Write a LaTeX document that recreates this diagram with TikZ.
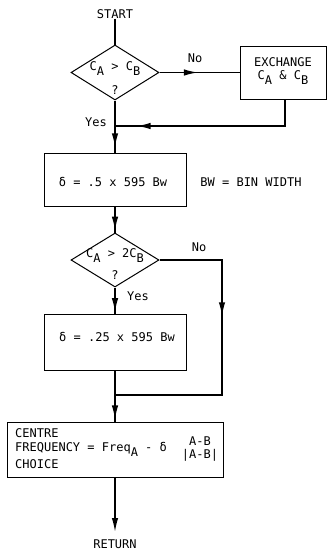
\documentclass[tikz,border=0pt]{standalone}
\usepackage{fontspec}
\setmainfont{DejaVu Sans Mono}
\usetikzlibrary{arrows.meta,decorations.markings,shapes.geometric}
\newcommand{\lowr}[1]{\raisebox{-5pt}{#1}}
\begin{document}
\begin{tikzpicture}[x=1pt,y=-1pt,
  font=\fontsize{12}{14}\selectfont,
  txt/.style={inner sep=0pt},
  boxs/.style={draw,line width=1pt,inner sep=0pt},
  dia/.style={draw,diamond,line width=1pt,inner sep=0pt},
  conn/.style={line width=1.5pt},
  tip/.tip={Latex[length=14pt,width=6.5pt]},
  midarrow/.style={postaction={decorate,decoration={markings,
    mark=at position #1 with {\arrow{tip}}}}}]
\useasboundingbox[fill=white] (0,0) rectangle (327,552);

% nodes
\node[txt] (start) at (115,14) {START};
\node[dia,minimum width=88pt,minimum height=55pt] (d1) at (115,72.5) {};
\node[txt] (d1t) at (115,69) {C\lowr{A} > C\lowr{B}};
\node[txt] (d1q) at (115,90) {?};
\node[boxs,minimum width=86pt,minimum height=53pt] (ex) at (283,72.5) {};
\node[txt] (ext1) at (283,62) {EXCHANGE};
\node[txt] (ext2) at (283,78) {C\lowr{A} \& C\lowr{B}};
\node[txt] (no1) at (195,58) {No};
\node[txt] (yes1) at (96,122) {Yes};

\node[boxs,minimum width=142pt,minimum height=53pt] (b2) at (115,179.5) {};
\node[txt] (b2t) at (113,182) {δ = .5 x 595 Bw};
\node[txt] (bw) at (251,182) {BW = BIN WIDTH};

\node[dia,minimum width=88pt,minimum height=54pt] (d2) at (115,260) {};
\node[txt] (d2t) at (115,256) {C\lowr{A} > 2C\lowr{B}};
\node[txt] (d2q) at (115,275) {?};
\node[txt] (no2) at (199,247) {No};
\node[txt] (yes2) at (138,296) {Yes};

\node[boxs,minimum width=142pt,minimum height=56pt] (b3) at (115,342) {};
\node[txt] (b3t) at (117,337) {δ = .25 x 595 Bw};

\node[boxs,minimum width=216pt,minimum height=55pt] (b4) at (115,449.5) {};
\node[txt,anchor=west] (b4a) at (15,433) {CENTRE};
\node[txt,anchor=west] (b4b) at (15,449) {FREQUENCY = Freq\lowr{A} - δ};
\node[txt,anchor=west] (b4c) at (15,464) {CHOICE};
\node[txt] (fr1) at (200,441) {A-B};
\node[txt] (fr2) at (200,455) {|A-B|};

\node[txt] (ret) at (115,544) {RETURN};

\coordinate (j1) at (115,126);
\coordinate (j2) at (115,395);
\coordinate (rt) at (115,532);

% connectors
\draw[conn] (start.south) -- (d1.north);
\draw[conn,midarrow=0.48] (d1.east) -- (ex.west);
\draw[conn,midarrow=0.89] ([xshift=2pt]ex.south) |- (j1);
\draw[conn,midarrow=0.9] (d1.south) -- (b2.north);
\draw[conn,midarrow=0.93] (b2.south) -- (d2.north);
\draw[conn,midarrow=0.39] (d2.east) -- (222,260) -- (222,395) -- (j2);
\draw[conn,midarrow=0.95] (d2.south) -- (b3.north);
\draw[conn,midarrow=0.96] (b3.south) -- (b4.north);
\draw[conn,-tip] (b4.south) -- (rt);
\end{tikzpicture}
\end{document}
